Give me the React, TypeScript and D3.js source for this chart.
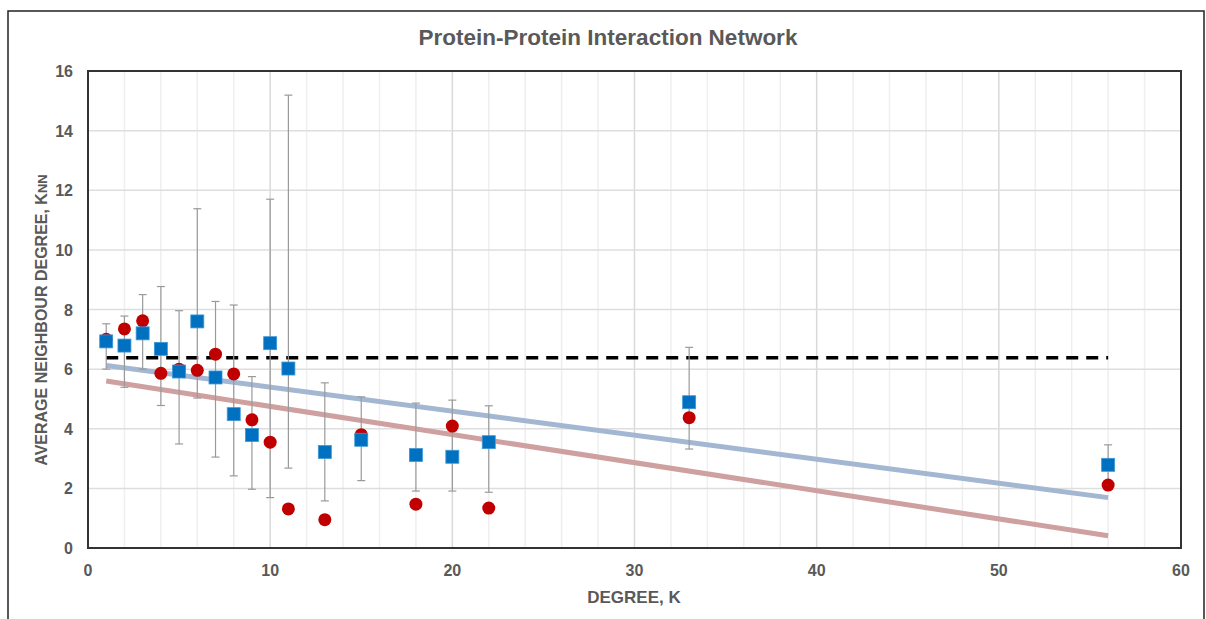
import React from 'react';
import * as d3 from 'd3';

// Degree values (x)
const degrees = [1, 2, 3, 4, 5, 6, 7, 8, 9, 10, 11, 13, 15, 18, 20, 22, 33, 56];
// Blue squares
const knnBlue = [6.93, 6.79, 7.2, 6.68, 5.92, 7.6, 5.72, 4.49, 3.79, 6.87, 6.02, 3.22, 3.63, 3.12, 3.06, 3.55, 4.89, 2.79];
// Red circles
const knnRed = [7.0, 7.35, 7.62, 5.86, 6.0, 5.96, 6.5, 5.84, 4.3, 3.55, 1.31, 0.95, 3.8, 1.47, 4.09, 1.34, 4.37, 2.11];
// Error bar limits
const errLow = [6.0, 5.39, 6.0, 4.78, 3.49, 5.03, 3.05, 2.42, 1.97, 1.69, 2.68, 1.58, 2.26, 1.91, 1.91, 1.87, 3.32, 2.11];
const errHigh = [7.52, 7.78, 8.5, 8.77, 7.96, 11.38, 8.27, 8.15, 5.75, 11.7, 15.19, 5.54, 5.07, 4.86, 4.96, 4.77, 6.73, 3.46];

// trend lines (endpoints) and the random-network reference
const trendX = [1, 56];
const trendBlue = [6.12, 1.69];
const trendRed = [5.6, 0.41];
const randomLevel = 6.38;

const xTicks = [0, 10, 20, 30, 40, 50, 60];
const yTicks = [0, 2, 4, 6, 8, 10, 12, 14, 16];

const W = 1206;
const H = 619;
const margin = { top: 71, right: 25, bottom: 71, left: 88 };

export default function App() {
  const x = d3.scaleLinear().domain([0, 60]).range([margin.left, W - margin.right]);
  const y = d3.scaleLinear().domain([0, 16]).range([H - margin.bottom, margin.top]);

  const minorX = d3.range(0, 61, 2);
  const font = '"Liberation Sans", Arial, sans-serif';
  const gray = '#595959';

  const line = d3.line<number>()
    .x((d, i) => x(trendX[i]))
    .y(d => y(d));

  return (
    <svg width={W} height={H} style={{ position: 'absolute', left: 0, top: 0, background: '#fff' }} fontFamily={font}>
      <rect x={8} y={11} width={1196} height={640} fill="#fff" stroke="#222" strokeWidth={1.5} />

      <text x={608} y={45} textAnchor="middle" fontSize={22.5} fontWeight="bold" fill={gray}>
        Protein-Protein Interaction Network
      </text>

      {/* grid */}
      {minorX.map(v => (
        <line key={'gx' + v} x1={x(v)} x2={x(v)} y1={y(0)} y2={y(16)}
          stroke={v % 10 === 0 ? '#d9d9d9' : '#efefef'} strokeWidth={1.5} />
      ))}
      {yTicks.map(v => (
        <line key={'gy' + v} x1={x(0)} x2={x(60)} y1={y(v)} y2={y(v)} stroke="#dedede" strokeWidth={1.5} />
      ))}

      {/* trend lines */}
      <path d={line(trendBlue) || ''} fill="none" stroke="#a3b6d2" strokeWidth={5} />
      <path d={line(trendRed) || ''} fill="none" stroke="#cfa0a0" strokeWidth={5} />

      {/* random network level */}
      <line x1={x(1)} x2={x(56)} y1={y(randomLevel)} y2={y(randomLevel)}
        stroke="#000" strokeWidth={3.5} strokeDasharray="12,8" />

      {/* error bars */}
      {degrees.map((d, i) => (
        <g key={'e' + i} stroke="#9a9a9a" strokeWidth={1.2}>
          <line x1={x(d)} x2={x(d)} y1={y(errLow[i])} y2={y(errHigh[i])} />
          <line x1={x(d) - 4} x2={x(d) + 4} y1={y(errLow[i])} y2={y(errLow[i])} />
          <line x1={x(d) - 4} x2={x(d) + 4} y1={y(errHigh[i])} y2={y(errHigh[i])} />
        </g>
      ))}

      {/* red circles */}
      {degrees.map((d, i) => (
        <circle key={'r' + i} cx={x(d)} cy={y(knnRed[i])} r={6.5} fill="#c00000" />
      ))}
      {/* blue squares */}
      {degrees.map((d, i) => (
        <rect key={'b' + i} x={x(d) - 6.5} y={y(knnBlue[i]) - 6.5} width={13} height={13}
          fill="#0070c0" stroke="#3f97d6" strokeWidth={0.8} />
      ))}

      {/* plot frame */}
      <rect x={x(0)} y={y(16)} width={x(60) - x(0)} height={y(0) - y(16)} fill="none" stroke="#333" strokeWidth={2} />

      {/* tick labels */}
      {xTicks.map(v => (
        <text key={'xt' + v} x={x(v)} y={y(0) + 28} textAnchor="middle" fontSize={16} fontWeight="bold" fill={gray}>{v}</text>
      ))}
      {yTicks.map(v => (
        <text key={'yt' + v} x={x(0) - 15} y={y(v) + 6} textAnchor="end" fontSize={16} fontWeight="bold" fill={gray}>{v}</text>
      ))}

      <text x={634} y={603} textAnchor="middle" fontSize={17} fontWeight="bold" fill={gray}>DEGREE, K</text>
      <text transform={`translate(47,320) rotate(-90)`} textAnchor="middle" fontSize={16} fontWeight="bold" fill={gray}>
        AVERAGE NEIGHBOUR DEGREE, K<tspan fontSize={13}>NN</tspan>
      </text>
    </svg>
  );
}
